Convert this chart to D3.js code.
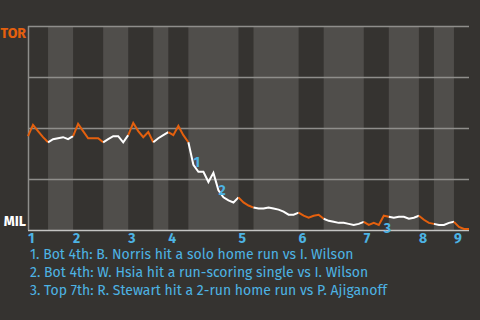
<!DOCTYPE html>
<html>
<head>
<meta charset="utf-8">
<script src="https://cdn.jsdelivr.net/npm/d3@7"></script>
<style>
  body { margin: 0; background: #353330; }
  text { font-family: "Fira Sans", "DejaVu Sans Condensed", "Liberation Sans Narrow", "Open Sans", sans-serif; }
</style>
</head>
<body>
<div id="chart"></div>
<script>
// innings, and the play index where each half-inning starts (last = end of game)
const innings = ["1", "2", "3", "4", "5", "6", "7", "8", "9"];
const halfBounds = [0, 4, 9, 15, 20, 25, 28, 32, 42, 45, 54, 59, 67, 72, 78, 81, 85, 88];

// TOR win probability after each play
const winProb = [
  0.46, 0.515, 0.485, 0.455, 0.43, 0.445, 0.45, 0.455, 0.445, 0.46,
  0.52, 0.485, 0.45, 0.45, 0.45, 0.43, 0.445, 0.46, 0.46, 0.43,
  0.465, 0.525, 0.485, 0.455, 0.48, 0.43, 0.45, 0.465, 0.48, 0.465,
  0.51, 0.465, 0.43, 0.32, 0.285, 0.285, 0.235, 0.28, 0.195, 0.16,
  0.145, 0.135, 0.16, 0.135, 0.12, 0.11, 0.105, 0.105, 0.11, 0.105,
  0.10, 0.09, 0.075, 0.075, 0.085, 0.07, 0.06, 0.07, 0.075, 0.055,
  0.045, 0.04, 0.035, 0.035, 0.03, 0.025, 0.03, 0.04, 0.025, 0.035,
  0.025, 0.07, 0.065, 0.06, 0.065, 0.065, 0.055, 0.06, 0.07, 0.05,
  0.035, 0.03, 0.025, 0.025, 0.035, 0.04, 0.015, 0.005, 0.005
];

const teamLabels = ["TOR", "MIL"];
const yTicks = [0, 0.25, 0.5, 0.75, 1];

// key plays
const keyPlays = [33, 38, 71];
const keyText = [
  "Bot 4th: B. Norris hit a solo home run vs I. Wilson",
  "Bot 4th: W. Hsia hit a run-scoring single vs I. Wilson",
  "Top 7th: R. Stewart hit a 2-run home run vs P. Ajiganoff"
];
const keyDy = [-3, 0, 12];

const orange = "#e4600e", blue = "#4db3e4";

const margin = {top: 26, right: 11, bottom: 90, left: 28},
    width = 480 - margin.left - margin.right,
    height = 320 - margin.top - margin.bottom;

const svg = d3.select("#chart")
  .append("svg")
    .attr("width", width + margin.left + margin.right)
    .attr("height", height + margin.top + margin.bottom)
  .append("g")
    .attr("transform", `translate(${margin.left},${margin.top})`);

const x = d3.scaleLinear()
  .domain([0, halfBounds[halfBounds.length - 1]])
  .range([0, width]);

const y = d3.scaleLinear()
  .domain([0, 1])
  .range([height, 0]);

const halves = d3.range(halfBounds.length - 1).map(i => ({
  i, start: halfBounds[i], end: halfBounds[i + 1], top: i % 2 === 0
}));

// bottom halves get the lighter band
svg.selectAll("rect.band")
  .data(halves.filter(d => !d.top))
  .join("rect")
    .attr("class", "band")
    .attr("x", d => x(d.start))
    .attr("y", 0)
    .attr("width", d => x(d.end) - x(d.start))
    .attr("height", height)
    .attr("fill", "#504e4b");

// grid
svg.selectAll("line.grid")
  .data(yTicks)
  .join("line")
    .attr("class", "grid")
    .attr("x1", 0)
    .attr("x2", width)
    .attr("y1", d => y(d) + 0.5)
    .attr("y2", d => y(d) + 0.5)
    .attr("stroke", d => d === 0 ? "#c4c4c2" : "#8f8e8b")
    .attr("stroke-width", 1.5);

svg.append("line")
  .attr("x1", 0.5).attr("x2", 0.5)
  .attr("y1", 0).attr("y2", height)
  .attr("stroke", "#8f8e8b")
  .attr("stroke-width", 1.5);

// win prob line, coloured by half inning
const line = d3.line()
  .x(i => x(i))
  .y(i => y(winProb[i]));

svg.selectAll("path.wp")
  .data(halves)
  .join("path")
    .attr("class", "wp")
    .attr("d", d => line(d3.range(d.start, d.end + 1)))
    .attr("fill", "none")
    .attr("stroke", d => d.top ? orange : "#ffffff")
    .attr("stroke-width", 2);

// team labels
svg.selectAll("text.team")
  .data(teamLabels)
  .join("text")
    .attr("class", "team")
    .attr("x", -2)
    .attr("y", (d, i) => i === 0 ? 12 : height - 4)
    .attr("text-anchor", "end")
    .attr("font-size", 14)
    .attr("font-weight", "bold")
    .attr("fill", (d, i) => i === 0 ? orange : "#ffffff")
    .text(d => d);

// inning labels at start of each top half
svg.selectAll("text.inning")
  .data(innings)
  .join("text")
    .attr("class", "inning")
    .attr("x", (d, i) => x(halfBounds[i * 2]))
    .attr("y", height + 13)
    .attr("font-size", 14)
    .attr("font-weight", "bold")
    .attr("fill", blue)
    .text(d => d);

// key play markers
svg.selectAll("text.key")
  .data(keyPlays)
  .join("text")
    .attr("class", "key")
    .attr("x", d => x(d))
    .attr("y", (d, i) => y(winProb[d]) + keyDy[i] + 5)
    .attr("font-size", 14)
    .attr("font-weight", "bold")
    .attr("fill", blue)
    .text((d, i) => i + 1);

// legend
svg.selectAll("text.legend")
  .data(keyText)
  .join("text")
    .attr("class", "legend")
    .attr("x", 2)
    .attr("y", (d, i) => height + 29 + i * 18)
    .attr("font-size", 14)
    .attr("fill", blue)
    .text((d, i) => `${i + 1}. ${d}`);
</script>
</body>
</html>
